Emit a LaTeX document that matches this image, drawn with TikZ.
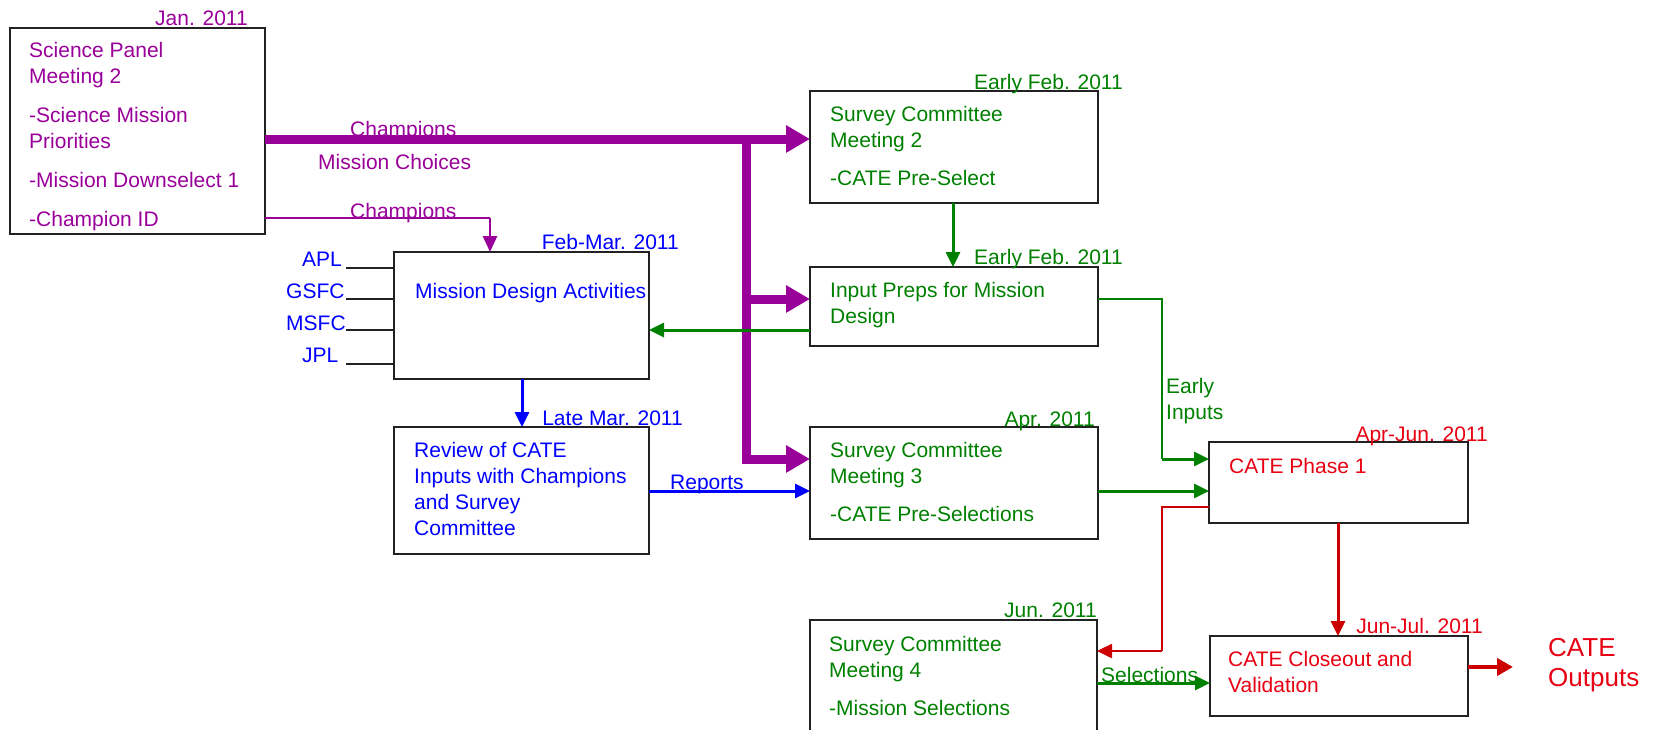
\documentclass[tikz,border=0pt]{standalone}
\usepackage{fontspec}
\setmainfont{Liberation Sans}
\usetikzlibrary{arrows.meta,calc}
\definecolor{cpurple}{HTML}{990099}
\definecolor{cgreen}{HTML}{008000}
\definecolor{cblue}{HTML}{0000FF}
\definecolor{cred}{HTML}{CC0000}
\definecolor{credtxt}{HTML}{E60012}
\definecolor{cbox}{HTML}{222222}
\begin{document}
\begin{tikzpicture}[x=1pt,y=-1pt,
  box/.style={draw=cbox, line width=1.8pt, rectangle, anchor=north west, inner sep=0pt, outer sep=0pt},
  txt/.style={font=\fontsize{21}{26}\selectfont, inner sep=0pt, anchor=base west},
  datelbl/.style={font=\fontsize{21}{26}\selectfont, inner sep=0pt, anchor=base east},
  pthick/.style={draw=cpurple, line width=9pt, line join=miter, -{Triangle[length=24pt,width=26pt]}},
  pthin/.style={draw=cpurple, line width=1.8pt},
  parrow/.style={draw=cpurple, line width=2.8pt, -{Triangle[length=16pt,width=14pt]}},
  garrow/.style={draw=cgreen, line width=3pt, -{Triangle[length=15pt,width=14pt]}},
  gthin/.style={draw=cgreen, line width=1.3pt},
  barrow/.style={draw=cblue, line width=3pt, -{Triangle[length=15pt,width=14pt]}},
  rarrow/.style={draw=cred, line width=3pt, -{Triangle[length=15pt,width=14pt]}},
  rthin/.style={draw=cred, line width=1.5pt},
  rout/.style={draw=cred, line width=4.5pt, -{Triangle[length=16pt,width=17pt]}},
  tick/.style={draw=cbox, line width=1.5pt}
]
\useasboundingbox (0,0) rectangle (1658,729);

% boxes
\node[box, minimum width=255pt, minimum height=206pt] (sp) at (10,28) {};
\node[box, minimum width=288pt, minimum height=112pt] (sc2) at (810,91) {};
\node[box, minimum width=288pt, minimum height=79pt] (ip) at (810,267) {};
\node[box, minimum width=255pt, minimum height=127pt] (mda) at (394,252) {};
\node[box, minimum width=255pt, minimum height=127pt] (rev) at (394,427) {};
\node[box, minimum width=288pt, minimum height=112pt] (sc3) at (810,427) {};
\node[box, minimum width=259pt, minimum height=81pt] (c1) at (1209,442) {};
\node[box, minimum width=287pt, minimum height=130pt] (sc4) at (810,620) {};
\node[box, minimum width=258pt, minimum height=80pt] (co) at (1210,636) {};

% box texts
\node[txt, text=cpurple] (sptxt) at ($(sp.north west)+(19,29.5)$)
  {\begin{tabular}[t]{@{}l@{}}Science Panel\\Meeting 2\\[13pt]-Science Mission\\Priorities\\[13pt]-Mission Downselect 1\\[13pt]-Champion ID\end{tabular}};
\node[txt, text=cgreen] (sc2txt) at ($(sc2.north west)+(20,30.5)$)
  {\begin{tabular}[t]{@{}l@{}}Survey Committee\\Meeting 2\\[12pt]-CATE Pre-Select\end{tabular}};
\node[txt, text=cgreen] (iptxt) at ($(ip.north west)+(20,30.5)$)
  {\begin{tabular}[t]{@{}l@{}}Input Preps for Mission\\Design\end{tabular}};
\node[txt, text=cblue] (mdatxt) at ($(mda.north west)+(21,46.5)$) {Mission Design Activities};
\node[txt, text=cblue] (revtxt) at ($(rev.north west)+(20,30.5)$)
  {\begin{tabular}[t]{@{}l@{}}Review of CATE\\Inputs with Champions\\and Survey\\Committee\end{tabular}};
\node[txt, text=cgreen] (sc3txt) at ($(sc3.north west)+(20,30.5)$)
  {\begin{tabular}[t]{@{}l@{}}Survey Committee\\Meeting 3\\[12pt]-CATE Pre-Selections\end{tabular}};
\node[txt, text=credtxt] (c1txt) at ($(c1.north west)+(20,31.5)$) {CATE Phase 1};
\node[txt, text=cgreen] (sc4txt) at ($(sc4.north west)+(19,31.5)$)
  {\begin{tabular}[t]{@{}l@{}}Survey Committee\\Meeting 4\\[12pt]-Mission Selections\end{tabular}};
\node[txt, text=credtxt] (cotxt) at ($(co.north west)+(18,30.5)$)
  {\begin{tabular}[t]{@{}l@{}}CATE Closeout and\\Validation\end{tabular}};

% date labels
\node[datelbl, text=cpurple] (d1) at (248,25) {Jan. 2011};
\node[datelbl, text=cgreen] (d2) at (1123,89) {Early Feb. 2011};
\node[datelbl, text=cgreen] (d3) at (1123,264) {Early Feb. 2011};
\node[datelbl, text=cblue] (d4) at (679,249) {Feb-Mar. 2011};
\node[datelbl, text=cblue] (d5) at (683,425) {Late Mar. 2011};
\node[datelbl, text=cgreen] (d6) at (1095,426) {Apr. 2011};
\node[datelbl, text=credtxt] (d7) at (1488,441) {Apr-Jun. 2011};
\node[datelbl, text=cgreen] (d8) at (1097,617) {Jun. 2011};
\node[datelbl, text=credtxt] (d9) at (1483,633) {Jun-Jul. 2011};

% connector labels
\node[txt, text=cpurple] (lch1) at (350,136) {Champions};
\node[txt, text=cpurple] (lmc) at (318,169.5) {Mission Choices};
\node[txt, text=cpurple] (lch2) at (350,218.5) {Champions};
\node[txt, text=cblue] (lrep) at (670,489) {Reports};
\node[txt, text=cgreen] (lsel) at (1101,682) {Selections};
\node[txt, text=cgreen] (lei) at (1166,393.5) {\begin{tabular}[t]{@{}l@{}}Early\\Inputs\end{tabular}};
\node[font=\fontsize{26}{30}\selectfont, inner sep=0pt, anchor=base west, text=credtxt] (outs) at (1548,656)
  {\begin{tabular}[t]{@{}l@{}}CATE\\Outputs\end{tabular}};

% centre labels
\node[txt, text=cblue] (apl) at (302,266) {APL};
\node[txt, text=cblue] (gsfc) at (286,298) {GSFC};
\node[txt, text=cblue] (msfc) at (286,330) {MSFC};
\node[txt, text=cblue] (jpl) at (302,362) {JPL};
\coordinate (t1) at (346,268);
\coordinate (t2) at (346,299);
\coordinate (t3) at (346,330);
\coordinate (t4) at (346,364);
\draw[tick] (t1) -- (mda.west |- t1);
\draw[tick] (t2) -- (mda.west |- t2);
\draw[tick] (t3) -- (mda.west |- t3);
\draw[tick] (t4) -- (mda.west |- t4);

% routing coordinates
\coordinate (pj) at (746,139);
\coordinate (pj2) at (746,299);
\coordinate (pj3) at (746,459);
\coordinate (ch) at (490,218);
\coordinate (b1) at (522,0);
\coordinate (g1) at (953,0);
\coordinate (g2) at (0,330);
\coordinate (rep) at (0,491);
\coordinate (ei1) at (1162,299);
\coordinate (ei2) at (1162,459);
\coordinate (r1) at (1162,507);
\coordinate (r2) at (1162,651);
\coordinate (rd) at (1338,0);
\coordinate (sel) at (0,683);
\coordinate (out) at (1513,667);

% purple connectors
\draw[pthick] (sp.east |- pj) -- (sc2.west |- pj);
\draw[pthick] (pj) -- (pj3) -- (sc3.west |- pj3);
\draw[pthick] (pj2) -- (ip.west |- pj2);
\draw[pthin] (sp.east |- ch) -- (ch);
\draw[parrow] (ch) -- (mda.north -| ch);

% green connectors
\draw[garrow] (sc2.south -| g1) -- (ip.north -| g1);
\draw[garrow] (ip.west |- g2) -- (mda.east |- g2);
\draw[gthin] (ip.east |- ei1) -- (ei1) -- (ei2);
\draw[garrow] (ei2) -- (c1.west |- ei2);
\draw[garrow] (sc3.east |- rep) -- (c1.west |- rep);
\draw[garrow] (sc4.east |- sel) -- (co.west |- sel);

% blue connectors
\draw[barrow] (mda.south -| b1) -- (rev.north -| b1);
\draw[barrow] (rev.east |- rep) -- (sc3.west |- rep);

% red connectors
\draw[rthin] (c1.west |- r1) -- (r1) -- (r2);
\draw[rarrow, line width=2.5pt] (r2) -- (sc4.east |- r2);
\draw[rarrow] (c1.south -| rd) -- (co.north -| rd);
\draw[rout] (co.east |- out) -- (out);
\end{tikzpicture}
\end{document}
